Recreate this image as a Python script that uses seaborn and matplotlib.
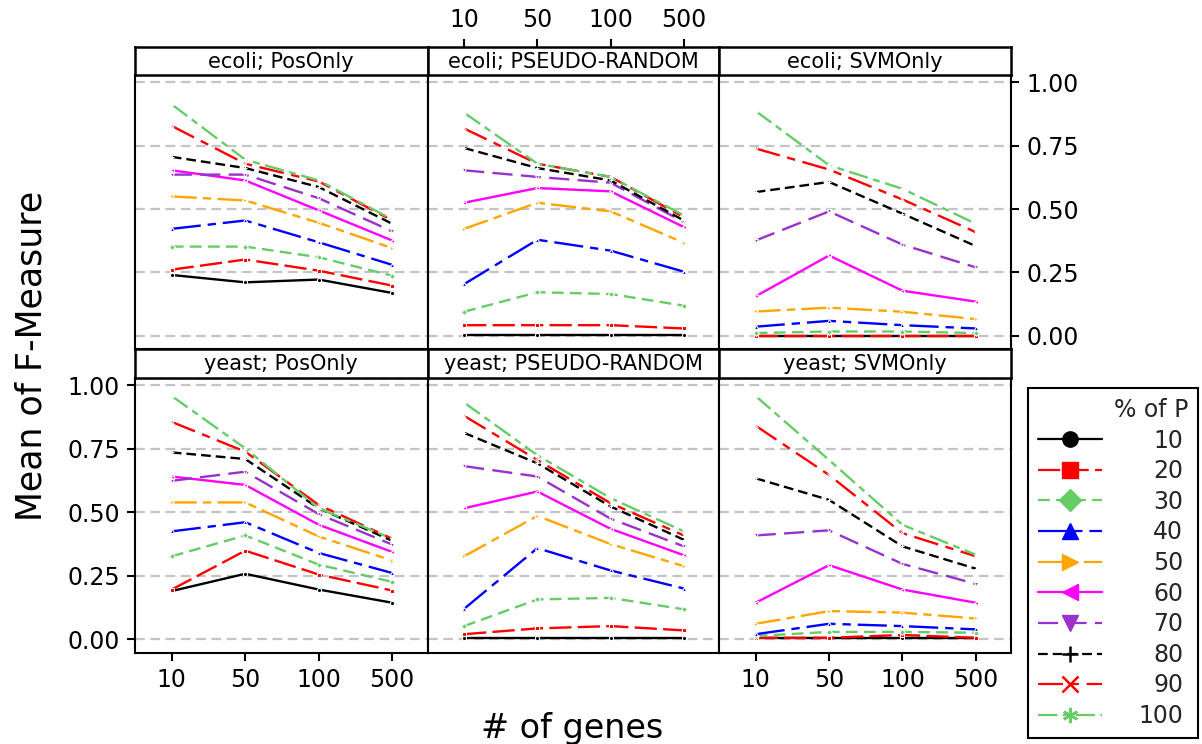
import pandas as pd
import seaborn as sns
import matplotlib.pyplot as plt
from matplotlib.lines import Line2D

genes = ["10", "50", "100", "500"]
pct_levels = [10, 20, 30, 40, 50, 60, 70, 80, 90, 100]
organisms = ["ecoli", "yeast"]
methods = ["PosOnly", "PSEUDO-RANDOM", "SVMOnly"]

# rows = % of P (10..100), columns = # of genes (10, 50, 100, 500)
ecoli_posonly = [
    [0.240, 0.211, 0.222, 0.169],
    [0.261, 0.301, 0.257, 0.198],
    [0.352, 0.352, 0.310, 0.237],
    [0.422, 0.455, 0.369, 0.280],
    [0.550, 0.534, 0.446, 0.346],
    [0.653, 0.613, 0.495, 0.376],
    [0.636, 0.636, 0.543, 0.412],
    [0.706, 0.662, 0.587, 0.442],
    [0.828, 0.679, 0.609, 0.455],
    [0.913, 0.695, 0.613, 0.459],
]
ecoli_pseudo = [
    [0.002, 0.002, 0.002, 0.002],
    [0.042, 0.042, 0.042, 0.029],
    [0.095, 0.172, 0.165, 0.119],
    [0.204, 0.379, 0.336, 0.253],
    [0.422, 0.525, 0.491, 0.367],
    [0.525, 0.583, 0.570, 0.429],
    [0.653, 0.627, 0.604, 0.449],
    [0.741, 0.662, 0.613, 0.455],
    [0.818, 0.679, 0.627, 0.468],
    [0.880, 0.679, 0.627, 0.475],
]
ecoli_svm = [
    [0.000, 0.000, 0.000, 0.000],
    [0.001, 0.001, 0.001, 0.001],
    [0.011, 0.017, 0.017, 0.011],
    [0.036, 0.059, 0.042, 0.029],
    [0.096, 0.111, 0.095, 0.066],
    [0.156, 0.317, 0.178, 0.135],
    [0.376, 0.491, 0.360, 0.270],
    [0.567, 0.607, 0.482, 0.354],
    [0.739, 0.656, 0.538, 0.409],
    [0.887, 0.673, 0.580, 0.442],
]
yeast_posonly = [
    [0.190, 0.258, 0.196, 0.144],
    [0.196, 0.349, 0.255, 0.192],
    [0.327, 0.409, 0.294, 0.226],
    [0.425, 0.461, 0.340, 0.261],
    [0.539, 0.539, 0.405, 0.310],
    [0.641, 0.608, 0.451, 0.344],
    [0.624, 0.660, 0.493, 0.373],
    [0.736, 0.710, 0.516, 0.388],
    [0.856, 0.739, 0.529, 0.396],
    [0.958, 0.752, 0.516, 0.396],
]
yeast_pseudo = [
    [0.006, 0.006, 0.006, 0.006],
    [0.020, 0.043, 0.052, 0.035],
    [0.052, 0.157, 0.163, 0.118],
    [0.120, 0.359, 0.271, 0.200],
    [0.327, 0.486, 0.375, 0.288],
    [0.516, 0.582, 0.435, 0.331],
    [0.682, 0.641, 0.475, 0.366],
    [0.813, 0.693, 0.523, 0.392],
    [0.880, 0.706, 0.536, 0.409],
    [0.932, 0.725, 0.556, 0.425],
]
yeast_svm = [
    [0.006, 0.006, 0.006, 0.006],
    [0.006, 0.006, 0.017, 0.006],
    [0.013, 0.029, 0.029, 0.026],
    [0.020, 0.061, 0.052, 0.039],
    [0.061, 0.111, 0.105, 0.082],
    [0.144, 0.292, 0.196, 0.144],
    [0.409, 0.429, 0.297, 0.218],
    [0.634, 0.549, 0.366, 0.278],
    [0.841, 0.647, 0.418, 0.327],
    [0.958, 0.706, 0.451, 0.333],
]

panels = {
    ("ecoli", "PosOnly"): ecoli_posonly,
    ("ecoli", "PSEUDO-RANDOM"): ecoli_pseudo,
    ("ecoli", "SVMOnly"): ecoli_svm,
    ("yeast", "PosOnly"): yeast_posonly,
    ("yeast", "PSEUDO-RANDOM"): yeast_pseudo,
    ("yeast", "SVMOnly"): yeast_svm,
}

rows = []
for (org, meth), table in panels.items():
    for pct, vals in zip(pct_levels, table):
        for g, v in zip(genes, vals):
            rows.append({"org": org, "method": meth, "pct": pct, "genes": g, "F": v})
df = pd.DataFrame(rows)

colors = ["black", "#FF0000", "#66CC66", "#0000FF", "#FFA500",
          "#FF00FF", "#9932CC", "black", "#FF0000", "#66CC66"]
dash_list = [(1, 0), (16, 4.5), (8.5, 4.5), (21, 5, 6, 5), (18, 4.5, 6, 4.5),
             (1, 0), (14.5, 6), (7, 3.6), (18, 5.5, 6, 5.5), (14, 4, 5, 4)]
marker_list = ["o", "s", "D", "^", ">", "<", "v", "+", "x", (6, 2, 0)]
palette = dict(zip(pct_levels, colors))
dashes = dict(zip(pct_levels, dash_list))
markers = dict(zip(pct_levels, marker_list))

sns.set_theme(style="white")
plt.rcParams["font.family"] = ["DejaVu Sans"]
plt.rcParams["lines.scale_dashes"] = False

W, H = 1202, 744
fig = plt.figure(figsize=(W / 100, H / 100), dpi=100)


def box(x0, y0, x1, y1):
    return [x0 / W, 1 - y1 / H, (x1 - x0) / W, (y1 - y0) / H]


col_x = [(135, 427.5), (427.5, 719), (719, 1011)]
row_y = [((47, 75), (75, 349)), ((349, 378), (378, 652.5))]
tick_fs = 17

for r, org in enumerate(organisms):
    for c, meth in enumerate(methods):
        (sx0, sx1), ((st0, st1), (py0, py1)) = col_x[c], row_y[r]
        ax = fig.add_axes(box(sx0, py0, sx1, py1))
        sub = df[(df["org"] == org) & (df["method"] == meth)]
        sns.lineplot(data=sub, x="genes", y="F", hue="pct", style="pct",
                     palette=palette, dashes=dashes, linewidth=1.7,
                     legend=False, ax=ax, sort=False)
        # tiny point markers as in the original
        for line, p in zip(ax.lines, pct_levels):
            line.set_marker(markers[p])
            line.set_markersize(3)
        ax.set_xlim(-0.5, 3.48)
        ax.set_ylim(-0.052, 1.029)
        ax.set_yticks([0, 0.25, 0.5, 0.75, 1.0])
        ax.set_yticklabels(["0.00", "0.25", "0.50", "0.75", "1.00"])
        ax.set_xticks(range(len(genes)))
        ax.set_xticklabels(genes)
        ax.grid(axis="y", color="#C4C4C4", linestyle=(0, (7, 4)), linewidth=1.6)
        ax.grid(axis="x", visible=False)
        ax.set_axisbelow(True)
        ax.set_xlabel("")
        ax.set_ylabel("")
        for s in ax.spines.values():
            s.set_color("black")
            s.set_linewidth(1.5)
        ax.tick_params(direction="out", length=6, width=1.5, color="black",
                       labelsize=tick_fs, labelcolor="black", pad=5)
        show_bottom = (r == 1 and c != 1)
        show_left = (r == 1 and c == 0)
        show_right = (r == 0 and c == 2)
        ax.tick_params(axis="x", bottom=show_bottom, labelbottom=show_bottom,
                       top=False, labeltop=False)
        ax.tick_params(axis="y", left=show_left, labelleft=show_left,
                       right=show_right, labelright=show_right)

        # strip
        sax = fig.add_axes(box(sx0, st0, sx1, st1))
        sax.set_xlim(-0.5, 3.48)
        sax.set_ylim(0, 1)
        sax.set_facecolor("white")
        for s in sax.spines.values():
            s.set_color("black")
            s.set_linewidth(1.8)
        sax.set_yticks([])
        sax.text(0.5, 0.47, f"{org}; {meth}", transform=sax.transAxes,
                 ha="center", va="center", fontsize=15, color="black")
        if r == 0 and c == 1:
            sax.set_xticks(range(len(genes)))
            sax.set_xticklabels(genes)
            sax.tick_params(axis="x", bottom=False, labelbottom=False, top=True,
                            labeltop=True, direction="out", length=6, width=1.5,
                            color="black", labelsize=tick_fs, labelcolor="black", pad=5)
        else:
            sax.set_xticks([])

fig.text(42 / W, 1 - 356 / H, "Mean of F-Measure", rotation=90, ha="center",
         va="baseline", rotation_mode="anchor", fontsize=25, color="black")
fig.text(572 / W, 1 - 738 / H, "# of genes", ha="center", va="baseline",
         fontsize=24, color="black")

handles = [Line2D([], [], color=palette[p], linestyle=(0, dashes[p]) if dashes[p] != (1, 0) else "-",
                  linewidth=1.6, marker=markers[p], markersize=11,
                  markeredgewidth=1.8 if p in (80, 90, 100) else 1.0)
           for p in pct_levels]
lax = fig.add_axes(box(1028, 388, 1198, 735))
lax.axis("off")
leg = lax.legend(handles, [str(p) for p in pct_levels], title="% of P",
                 loc="upper left", bbox_to_anchor=(0, 0, 1, 1), mode="expand",
                 fontsize=17, title_fontsize=17, frameon=True, fancybox=False,
                 edgecolor="black", framealpha=1, handlelength=2.7,
                 handletextpad=1.55, labelspacing=0.28, borderpad=0.42,
                 alignment="right", borderaxespad=0)
leg.get_frame().set_linewidth(1.5)

# right-align the legend labels
fig.canvas.draw()
widths = [t.get_window_extent().width for t in leg.get_texts()]
for t, w in zip(leg.get_texts(), widths):
    t.set_position((max(widths) - w, 0))

fig.savefig("out.png", dpi=100)
